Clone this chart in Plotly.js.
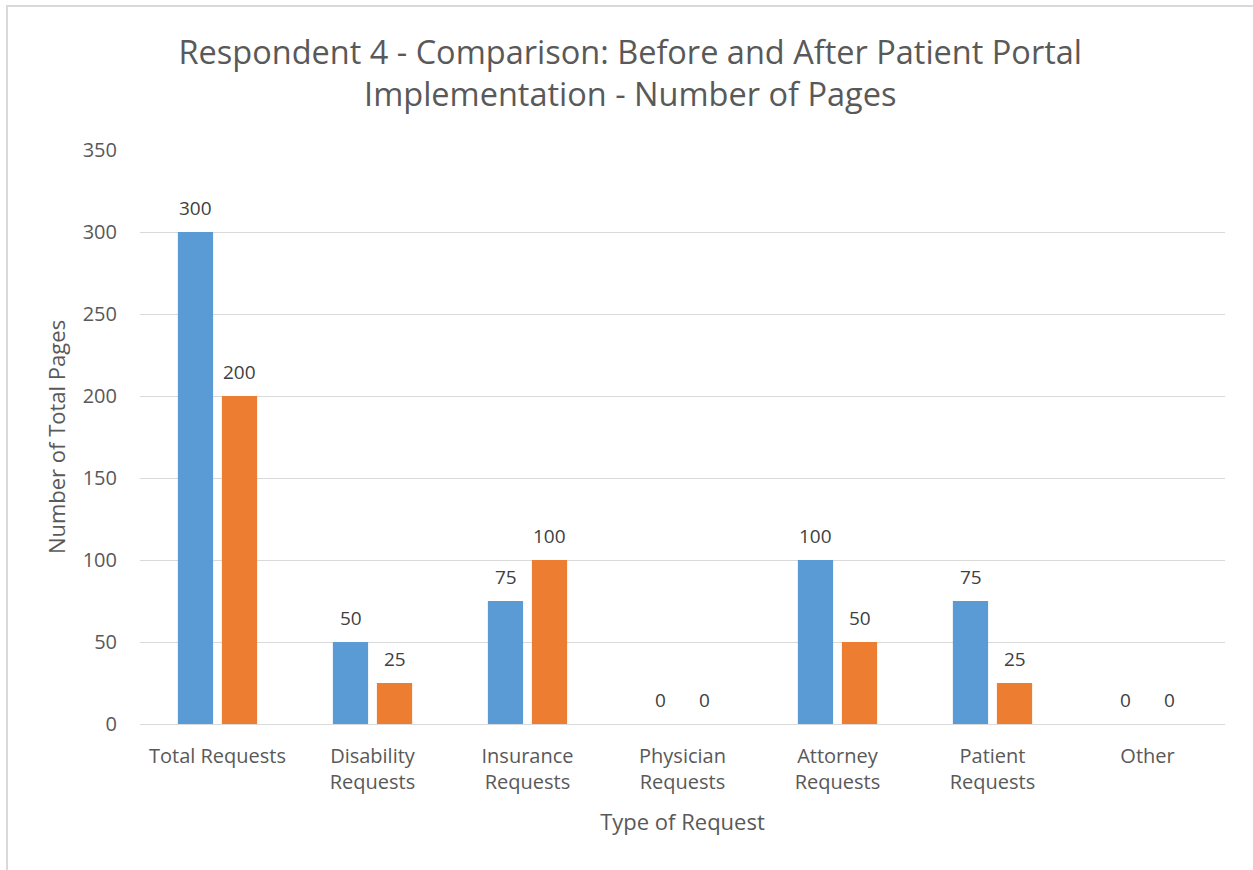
<!DOCTYPE html>
<html>
<head>
<meta charset="utf-8">
<script src="https://cdn.plot.ly/plotly-3.0.1.min.js"></script>
<style>
  body { margin: 0; background: #fff; }
  #chart { position: absolute; left: 0; top: 0; width: 1253px; height: 870px; }
  #frame { position: absolute; left: 6px; top: 5px; width: 1300px; height: 900px;
           border-left: 2px solid #D9D9D9; border-top: 2px solid #D9D9D9; pointer-events: none; }
</style>
</head>
<body>
<div id="chart"></div>
<div id="frame"></div>
<script>
const categories = ["Total Requests", "Disability<br>Requests", "Insurance<br>Requests", "Physician<br>Requests", "Attorney<br>Requests", "Patient<br>Requests", "Other"];
const beforeValues = [300, 50, 75, 0, 100, 75, 0];
const afterValues = [200, 25, 100, 0, 50, 25, 0];
const yTicks = [0, 50, 100, 150, 200, 250, 300, 350];

const fontFam = "Open Sans, Liberation Sans, sans-serif";
const gray = "#595959";

function barTrace(name, vals, color) {
  return {
    type: "bar", name: name, x: categories, y: vals,
    marker: { color: color },
    hoverinfo: "x+y"
  };
}

const data = [
  barTrace("Before", beforeValues, "#5B9BD5"),
  barTrace("After", afterValues, "#ED7D31")
];

// data labels placed via the library's scales (category + value), offset to each bar of the group
function labels(vals, shift) {
  return vals.map((v, i) => ({
    x: categories[i], y: v, xref: "x", yref: "y",
    text: String(v), showarrow: false,
    xshift: shift, yshift: 9, yanchor: "bottom",
    font: { family: fontFam, size: 19, color: "#404040" }
  }));
}

const layout = {
  width: 1253, height: 870,
  margin: { l: 140, r: 28, t: 150, b: 146 },
  paper_bgcolor: "#fff", plot_bgcolor: "#fff",
  showlegend: false,
  barmode: "group", bargap: 0.432, bargroupgap: 0.2,
  title: {
    text: "Respondent 4 - Comparison: Before and After Patient Portal<br>Implementation - Number of Pages",
    font: { family: fontFam, size: 32.5, color: gray },
    x: 0.503, xanchor: "center", y: 0.927, yanchor: "middle"
  },
  annotations: labels(beforeValues, -22).concat(labels(afterValues, 22)),
  xaxis: {
    type: "category",
    tickfont: { family: fontFam, size: 20, color: gray },
    showline: true, linecolor: "#D9D9D9", linewidth: 1,
    ticks: "outside", ticklen: 14, tickcolor: "rgba(0,0,0,0)", showgrid: false,
    title: { text: "Type of Request", font: { family: fontFam, size: 22, color: gray }, standoff: 20 }
  },
  yaxis: {
    range: [0, 350], tickvals: yTicks, ticktext: yTicks.map(String),
    tickfont: { family: fontFam, size: 20, color: gray },
    showgrid: true, gridcolor: "#D9D9D9", gridwidth: 1,
    zeroline: false, showline: false, ticks: "outside", ticklen: 18, tickcolor: "rgba(0,0,0,0)",
    title: { text: "Number of Total Pages", font: { family: fontFam, size: 22, color: gray }, standoff: 10 }
  }
};

Plotly.newPlot("chart", data, layout, { displayModeBar: false, staticPlot: true });
</script>
</body>
</html>
